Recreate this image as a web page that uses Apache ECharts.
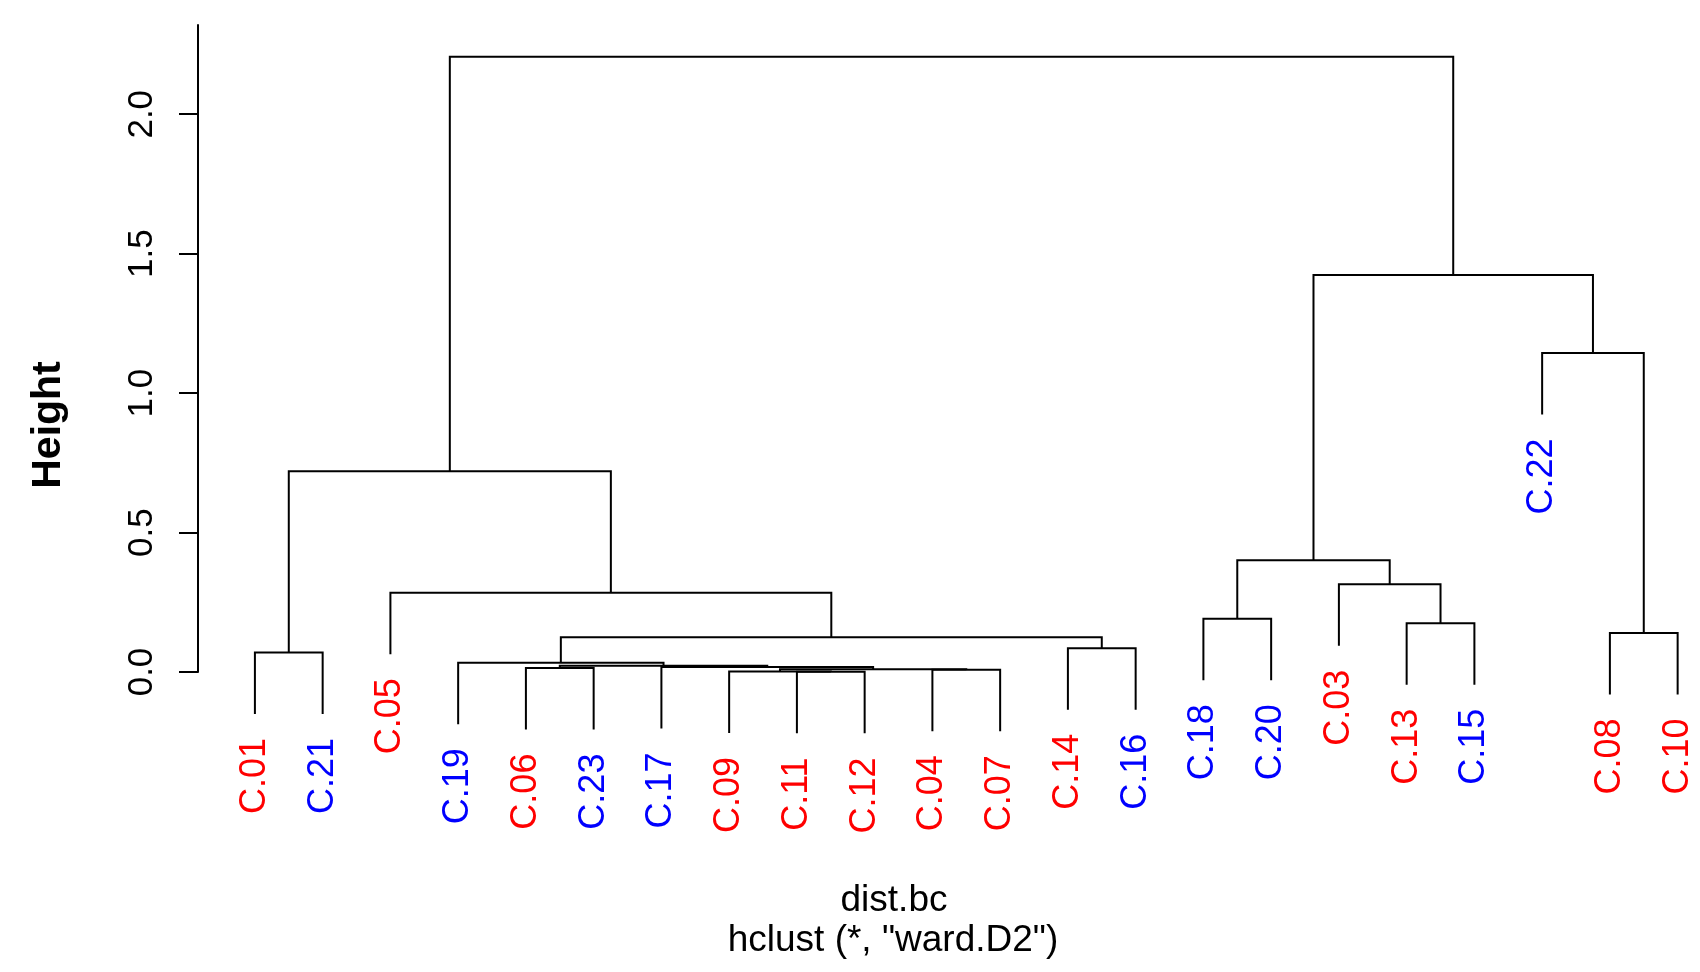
<!DOCTYPE html>
<html>
<head>
<meta charset="utf-8">
<script src="https://cdn.jsdelivr.net/npm/echarts@6/dist/echarts.min.js"></script>
<style>
  html, body { margin: 0; padding: 0; background: #fff; }
  #chart { width: 1700px; height: 972px; }
</style>
</head>
<body>
<div id="chart"></div>
<script>
// leaves in plotting order
var labels = ['C.01','C.21','C.05','C.19','C.06','C.23','C.17','C.09','C.11','C.12','C.04',
              'C.07','C.14','C.16','C.18','C.20','C.03','C.13','C.15','C.22','C.08','C.10'];
// 1 = red group, 2 = blue group
var groups = [1,2,1,2,1,2,2,1,1,1,1,1,1,2,2,2,1,1,2,2,1,1];

// merge table, hclust style: negative = leaf (position in labels), positive = earlier merge step
var mergeA = [-9, -8, -11, 2, -5, -7, 5, -4, -1, -13, 8, -21, -18, -15, -3, -17, 14, 9, -20, 17, 18];
var mergeB = [-10, 1, -12, 3, -6, 4, 6, 7, -2, -14, 10, -22, -19, -16, 11, 13, 16, 15, 12, 19, 20];
var heights = [0.0005, 0.002, 0.008, 0.010, 0.014, 0.018, 0.022, 0.033, 0.070, 0.085, 0.1245,
               0.140, 0.175, 0.191, 0.284, 0.315, 0.401, 0.720, 1.144, 1.424, 2.206];

var yTicks = [0, 0.5, 1.0, 1.5, 2.0];

var groupColor = { 1: '#ff0000', 2: '#0000ff' };
var FONT = '"Liberation Sans", Arial, Helvetica, sans-serif';

// walk the merges -> segment list and leaf ends
var hang = 0.1 * (Math.max.apply(null, heights) - Math.min.apply(null, heights));
var nodeX = [];
var leafEnd = [];
var segs = [];
heights.forEach(function (h, i) {
  var a = mergeA[i], b = mergeB[i];
  var xa = a < 0 ? -a : nodeX[a - 1];
  var xb = b < 0 ? -b : nodeX[b - 1];
  var ya = a < 0 ? h - hang : heights[a - 1];
  var yb = b < 0 ? h - hang : heights[b - 1];
  if (a < 0) leafEnd[-a - 1] = ya;
  if (b < 0) leafEnd[-b - 1] = yb;
  nodeX.push((xa + xb) / 2);
  segs.push([xa, ya, xb, yb, h]);
});
var leafData = labels.map(function (l, i) { return [i + 1, leafEnd[i]]; });

var chart = echarts.init(document.getElementById('chart'));
chart.setOption({
  animation: false,
  backgroundColor: '#fff',
  grid: { left: 198, right: 0, top: 25, bottom: 300 },
  xAxis: { type: 'value', min: 0.16, max: 22.33, show: false },
  yAxis: {
    type: 'value', min: 0, max: 2.32, interval: 0.5,
    splitLine: { show: false },
    axisLine: { show: true, lineStyle: { color: '#000', width: 2 } },
    axisTick: { show: true, length: 19, customValues: yTicks, lineStyle: { color: '#000', width: 2 } },
    axisLabel: {
      customValues: yTicks, rotate: 90, margin: 38, color: '#000',
      fontSize: 35, fontFamily: FONT,
      formatter: function (v) { return v.toFixed(1); }
    }
  },
  graphic: [
    { type: 'text', x: 49, y: 425, rotation: Math.PI / 2,
      style: { text: 'Height', font: 'bold 41px ' + FONT, fill: '#000', align: 'center', verticalAlign: 'middle' } },
    { type: 'text', x: 894, y: 901,
      style: { text: 'dist.bc', font: '37px ' + FONT, fill: '#000', align: 'center', verticalAlign: 'middle' } },
    { type: 'text', x: 893, y: 941,
      style: { text: 'hclust (*, "ward.D2")', font: '37px ' + FONT, fill: '#000', align: 'center', verticalAlign: 'middle' } }
  ],
  series: [
    {
      type: 'custom',
      clip: false,
      data: segs,
      renderItem: function (params, api) {
        var p1 = api.coord([api.value(0), api.value(1)]);
        var p2 = api.coord([api.value(0), api.value(4)]);
        var p3 = api.coord([api.value(2), api.value(4)]);
        var p4 = api.coord([api.value(2), api.value(3)]);
        return {
          type: 'polyline',
          shape: { points: [p1, p2, p3, p4] },
          style: { stroke: '#000', lineWidth: 2, fill: null }
        };
      }
    },
    {
      type: 'custom',
      clip: false,
      data: leafData,
      renderItem: function (params, api) {
        var i = params.dataIndex;
        var p = api.coord([api.value(0), api.value(1)]);
        return {
          type: 'text',
          x: p[0], y: p[1] + 24,
          rotation: Math.PI / 2,
          style: {
            text: labels[i], fill: groupColor[groups[i]],
            font: '36px ' + FONT, align: 'right', verticalAlign: 'middle'
          }
        };
      }
    }
  ]
});
</script>
</body>
</html>
